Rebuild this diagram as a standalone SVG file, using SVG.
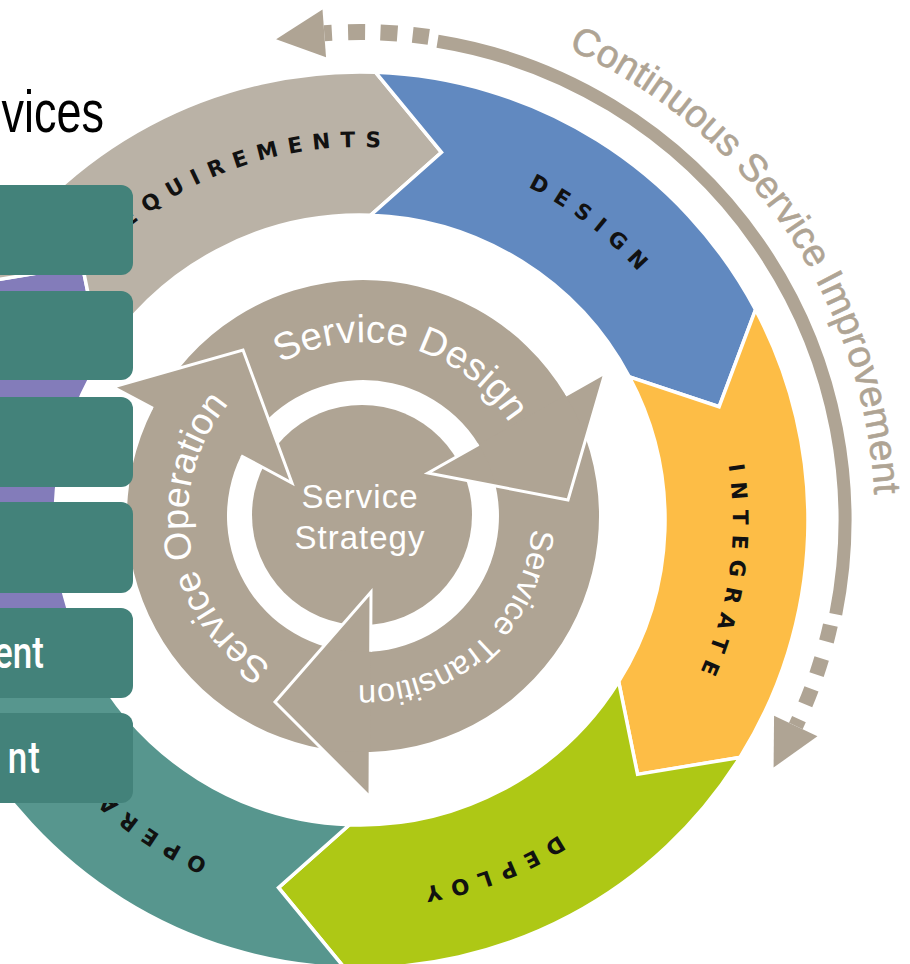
<svg xmlns="http://www.w3.org/2000/svg" width="910" height="964" viewBox="0 0 910 964">
<style>
.seg{stroke:#fff;stroke-width:3.5;stroke-linejoin:miter}
.lbl{font-family:"DejaVu Sans",sans-serif;font-weight:bold;font-size:21.5px;fill:#111}
.itil{fill:#afa494}
.outl{fill:none;stroke:#fff;stroke-width:3;stroke-linejoin:miter}
.itxt{font-family:"Liberation Sans",Arial,sans-serif;fill:#fff}
.box{fill:#43827a}
.btxt{font-family:Roboto,"Noto Sans",sans-serif;font-weight:500;font-size:35px;fill:#fff}
.csi{fill:none;stroke:#afa494}
</style>
<defs>
<path id="pReq" d="M485.74,871.17 A373,373 0 0 1 234.26,168.83 A373,373 0 0 1 485.74,871.17"/>
<path id="pDes" d="M132.93,815.92 A373,373 0 0 1 587.07,224.08 A373,373 0 0 1 132.93,815.92"/>
<path id="pInt" d="M-9.59,469.70 A373,373 0 0 1 729.59,570.30 A373,373 0 0 1 -9.59,469.70"/>
<path id="pDep" d="M225.42,172.13 A373,373 0 0 1 494.58,867.87 A373,373 0 0 1 225.42,172.13"/>
<path id="pOpe" d="M585.00,222.50 A373,373 0 0 1 135.00,817.50 A373,373 0 0 1 585.00,222.50"/>
<path id="pSD" d="M319.14,684.38 A174,174 0 0 1 406.86,347.62 A174,174 0 0 1 319.14,684.38"/>
<path id="pST" d="M249.25,389.67 A170,170 0 0 1 476.75,642.33 A170,170 0 0 1 249.25,389.67"/>
<path id="pSO" d="M535.70,487.72 A175,175 0 0 1 190.30,544.28 A175,175 0 0 1 535.70,487.72"/>
<path id="pCSI" d="M-64.43,811.70 A515,515 0 0 1 784.43,228.30 A515,515 0 0 1 -64.43,811.70"/>
</defs>
<rect width="910" height="964" fill="#fff"/>

<g id="outer-ring">
<g id="seg-purple"><path class="seg" fill="#837cba" d="M-35.56,730.32 A448,448 0 0 1 -19.93,282.60 L82.41,265.64 L101.34,358.37 A305,305 0 0 0 90.70,663.19 L0.92,633.22 Z"/></g>
<g id="seg-requirements"><path class="seg" fill="#bab2a6" d="M-19.93,282.60 A448,448 0 0 1 375.63,72.27 L441.49,152.42 L370.64,215.19 A305,305 0 0 0 101.34,358.37 L82.41,265.64 Z"/>
<text class="lbl"><textPath href="#pReq" startOffset="50%" text-anchor="middle" textLength="298" lengthAdjust="spacing">REQUIREMENTS</textPath></text></g>
<g id="seg-design"><path class="seg" fill="#6189c0" d="M375.63,72.27 A448,448 0 0 1 755.56,309.68 L719.08,406.78 L629.30,376.81 A305,305 0 0 0 370.64,215.19 L441.49,152.42 Z"/>
<text class="lbl"><textPath href="#pDes" startOffset="50%" text-anchor="middle" textLength="140" lengthAdjust="spacing">DESIGN</textPath></text></g>
<g id="seg-integrate"><path class="seg" fill="#fdbd46" d="M755.56,309.68 A448,448 0 0 1 739.93,757.40 L637.59,774.36 L618.66,681.63 A305,305 0 0 0 629.30,376.81 L719.08,406.78 Z"/>
<text class="lbl"><textPath href="#pInt" startOffset="50%" text-anchor="middle" textLength="212" lengthAdjust="spacing">INTEGRATE</textPath></text></g>
<g id="seg-deploy"><path class="seg" fill="#aec815" d="M739.93,757.40 A448,448 0 0 1 344.37,967.73 L278.51,887.58 L349.36,824.81 A305,305 0 0 0 618.66,681.63 L637.59,774.36 Z"/>
<text class="lbl"><textPath href="#pDep" startOffset="50%" text-anchor="middle" textLength="145" lengthAdjust="spacing">DEPLOY</textPath></text></g>
<g id="seg-operate"><path class="seg" fill="#57968e" d="M344.37,967.73 A448,448 0 0 1 -35.56,730.32 L0.92,633.22 L90.70,663.19 A305,305 0 0 0 349.36,824.81 L278.51,887.58 Z"/>
<text class="lbl"><textPath href="#pOpe" startOffset="50%" text-anchor="middle" textLength="170" lengthAdjust="spacing">OPERATE</textPath></text></g>
</g>

<g id="connectors">
<path class="csi" stroke-width="13" d="M437.54,41.24 A485,485 0 0 1 835.77,614.20"/>
<g class="csi" stroke-width="16">
<path d="M412.70,34.85 A488,488 0 0 1 428.76,36.87"/>
<path d="M380.44,32.43 A488,488 0 0 1 397.44,33.44"/>
<path d="M348.08,32.15 A488,488 0 0 1 365.11,32.02"/>
<path d="M324.26,33.31 A488,488 0 0 1 331.91,32.81"/>
</g>
<polygon fill="#afa494" points="322.50,9.38 326.02,57.25 276.10,39.27"/>
<g class="csi" stroke-width="15">
<path d="M830.39,625.14 A482,482 0 0 1 826.44,641.50"/>
<path d="M821.67,658.51 A482,482 0 0 1 816.56,674.53"/>
<path d="M811.48,688.80 A482,482 0 0 1 805.31,704.45"/>
<path d="M798.95,719.11 A482,482 0 0 1 795.80,726.00"/>
</g>
<polygon fill="#afa494" points="817.46,736.24 774.07,715.73 773.58,767.53"/>
<text font-family="Liberation Sans,Arial,sans-serif" font-size="38.5" fill="#afa494" stroke="#afa494" stroke-width="0.6"><textPath href="#pCSI" startOffset="50%" text-anchor="middle">Continuous Service Improvement</textPath></text>
</g>

<g id="itil">
<g id="service-strategy"><circle class="itil" cx="362" cy="515" r="110"/>
<text class="itxt" font-size="33" letter-spacing="1" text-anchor="middle" x="360" y="508">Service</text>
<text class="itxt" font-size="33" letter-spacing="1" text-anchor="middle" x="360" y="549">Strategy</text></g>
<g id="service-design"><path class="itil" d="M153.0,408.4 A236,236 0 0 1 565.7,395.2 L605,373 L568,500 L428,473 L478.6,444.4 A136,136 0 0 0 241.1,455.7 Z"/></g>
<g id="service-transition"><path class="itil" d="M565.7,395.2 A236,236 0 0 1 370.2,752.0 L370,797 L275,702 L371,592 L370.7,651.8 A136,136 0 0 0 478.6,444.4 Z"/></g>
<g id="service-operation"><path class="itil" d="M370.2,752.0 A236,236 0 0 1 153.0,408.4 L113,387 L243,350 L292,483 L241.1,455.7 A136,136 0 0 0 370.7,651.8 Z"/></g>
<polyline class="outl" points="565.7,395.2 605,373 568,500 428,473 478.6,444.4"/>
<polyline class="outl" points="370.2,752.0 370,797 275,702 371,592 370.7,651.8"/>
<polyline class="outl" points="153.0,408.4 113,387 243,350 292,483 241.1,455.7"/>
<text class="itxt" font-size="38.7"><textPath href="#pSD" startOffset="50%" text-anchor="middle">Service Design</textPath></text>
<text class="itxt" font-size="32.5"><textPath href="#pST" startOffset="50%" text-anchor="middle">Service Transition</textPath></text>
<text class="itxt" font-size="37.6"><textPath href="#pSO" startOffset="50%" text-anchor="middle">Service Operation</textPath></text>
</g>

<g id="title"><text font-family="Liberation Sans,Arial,sans-serif" font-size="45" fill="#000" text-anchor="end" transform="translate(104,132) scale(1,1.3)">vices</text></g>

<g id="boxes">
<g id="box1"><rect class="box" x="-20" y="185" width="153" height="90" rx="12"/></g>
<g id="box2"><rect class="box" x="-20" y="291" width="153" height="89" rx="12"/></g>
<g id="box3"><rect class="box" x="-20" y="397" width="153" height="90" rx="12"/></g>
<g id="box4"><rect class="box" x="-20" y="502" width="153" height="91" rx="12"/></g>
<g id="box5"><rect class="box" x="-20" y="608" width="153" height="90" rx="12"/>
<text class="btxt" text-anchor="end" transform="translate(44,668) scale(1,1.25)">ent</text></g>
<g id="box6"><rect class="box" x="-20" y="713" width="153" height="90" rx="12" fill="#45857c"/>
<text class="btxt" text-anchor="end" transform="translate(41,773) scale(1,1.25)" letter-spacing="1">nt</text></g>
</g>
</svg>
